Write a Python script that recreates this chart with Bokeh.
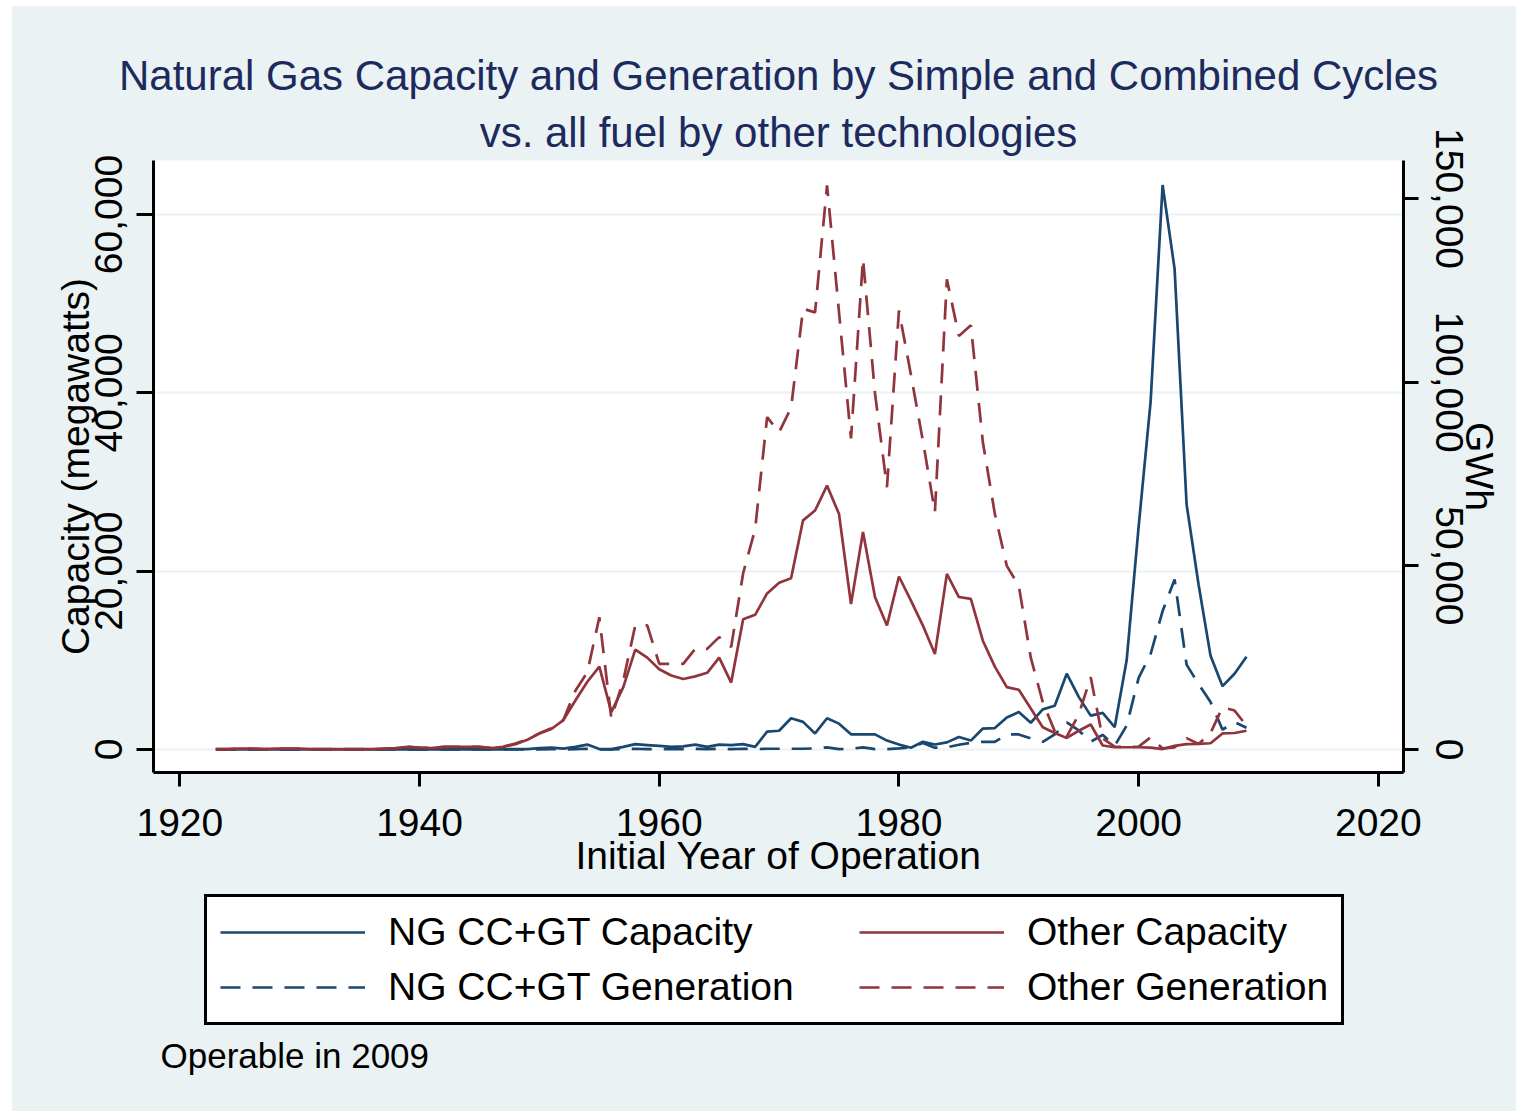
import math
from bokeh.plotting import figure
from bokeh.layouts import column
from bokeh.models import (Range1d, LinearAxis, FixedTicker, NumeralTickFormatter,
                          Legend, LegendItem, Title, Label, ColumnDataSource)
from bokeh.embed import file_html
from bokeh.resources import INLINE

# ---------------- data ----------------
years = list(range(1923, 2010))

# NG CC+GT capacity, MW (left axis)
ng_capacity = [
    20, 20, 20, 20, 20, 20, 20, 20, 20, 20,
    20, 20, 20, 20, 20, 20, 20, 20, 20, 20,
    20, 20, 20, 20, 20, 50, 50,
    150, 200, 100, 300, 550, 50, 50, 300, 600, 500,
    400, 300, 350, 550, 300, 550, 500, 600, 300, 2000,
    2100, 3500, 3100, 1800, 3500, 2900, 1700, 1700, 1700, 1000,
    560, 200, 860, 560, 800, 1400, 1000, 2350, 2400, 3600,
    4200, 3000, 4500, 4900, 8500, 5900, 3800, 4100, 2500, 10000,
    25000, 39000, 63300, 53900, 27500, 18500, 10500, 7100, 8500, 10400,
]

# NG CC+GT generation, GWh (right axis)
ng_generation = [
    0, 0, 0, 0, 0, 0, 0, 0, 0, 0,
    0, 0, 0, 0, 0, 0, 0, 0, 0, 0,
    0, 0, 0, 0, 0, 0, 0,
    0, 100, 0, 100, 200, 0, 0, 100, 200, 100,
    100, 100, 100, 200, 100, 200, 100, 200, 100, 200,
    200, 200, 200, 300, 600, 100, 200, 600, 100, 100,
    300, 600, 1800, 500, 600, 1300, 1800, 2100, 2100, 4100,
    4100, 3000, 2100, 4100, 7400, 5200, 2100, 4000, 1000, 6500,
    19500, 26000, 37700, 46300, 23100, 17800, 12900, 5400, 7500, 5900,
]

# Other capacity, MW (left axis)
other_capacity = [
    50, 50, 100, 100, 50, 100, 100, 100, 50, 50,
    50, 50, 50, 50, 100, 150, 300, 200, 150, 300,
    300, 300, 300, 150, 300, 600, 1100,
    1800, 2300, 3300, 5500, 7600, 9300, 4200, 7000, 11200, 10300,
    9000, 8300, 7900, 8200, 8600, 10300, 7500, 14600, 15100, 17500,
    18700, 19200, 25700, 26800, 29600, 26400, 16300, 24400, 17100, 13900,
    19400, 16700, 13900, 10700, 19700, 17100, 16900, 12200, 9300, 7000,
    6700, 4600, 2500, 1850, 1300, 2100, 2800, 450, 250, 250,
    250, 200, 50, 400, 600, 640, 700, 1800, 1850, 2100,
]

# Other generation, GWh (right axis)
other_generation = [
    100, 100, 200, 200, 100, 200, 200, 200, 100, 100,
    100, 100, 100, 100, 200, 400, 700, 500, 400, 700,
    700, 700, 700, 400, 800, 1600, 2800,
    4400, 5800, 8000, 16000, 21000, 36000, 8500, 18800, 33800, 33800,
    23300, 23300, 23300, 27400, 27400, 30600, 27900, 48000, 60000, 90500,
    86400, 93000, 120000, 119000, 153600, 119000, 84700, 133600, 97000, 71400,
    119500, 102000, 84000, 64600, 128000, 112600, 115500, 83700, 64200, 50000,
    44600, 25000, 12900, 5000, 3500, 9500, 19700, 3000, 800, 600,
    800, 3300, 300, 600, 3100, 1500, 4500, 11500, 10600, 6500,
]

x_ticks = [1920, 1940, 1960, 1980, 2000, 2020]
cap_ticks = [0, 20000, 40000, 60000]
gen_ticks = [0, 50000, 100000, 150000]

series_labels = ["NG CC+GT Capacity", "NG CC+GT Generation", "Other Capacity", "Other Generation"]
title_line1 = "Natural Gas Capacity and Generation by Simple and Combined Cycles"
title_line2 = "vs. all fuel by other technologies"
note_text = "Operable in 2009"

# ---------------- style ----------------
BG = "#EAF2F3"
NAVY = "#1A476F"
MAROON = "#90353B"
FONT = "Liberation Sans"
TITLE_C = "#1C2A5E"
DASH = "20 12"
LW = 2.7

p = figure(frame_width=1250, frame_height=612, output_backend="svg", toolbar_location=None,
           x_range=Range1d(1917.8, 2022.1), y_range=Range1d(-2580, 66055),
           min_border_left=141, min_border_right=113,
           min_border_top=154, min_border_bottom=120)
p.extra_y_ranges = {"gen": Range1d(-6262, 160360)}
p.background_fill_color = "white"
p.border_fill_color = BG
p.outline_line_color = None

src = ColumnDataSource(dict(year=years, ngc=ng_capacity, ngg=ng_generation,
                            oc=other_capacity, og=other_generation))

r1 = p.line("year", "ngc", source=src, line_color=NAVY, line_width=LW)
r2 = p.line("year", "ngg", source=src, line_color=NAVY, line_width=LW,
            line_dash=DASH, y_range_name="gen")
r3 = p.line("year", "oc", source=src, line_color=MAROON, line_width=LW)
r4 = p.line("year", "og", source=src, line_color=MAROON, line_width=LW,
            line_dash=DASH, y_range_name="gen")

# grid
p.xgrid.visible = False
p.ygrid.ticker = FixedTicker(ticks=cap_ticks)
p.ygrid.grid_line_color = BG
p.ygrid.grid_line_width = 2


def style_axis(ax):
    ax.axis_line_color = "black"
    ax.axis_line_width = 3
    ax.major_tick_line_color = "black"
    ax.major_tick_line_width = 3
    ax.major_tick_in = 0
    ax.minor_tick_line_color = None
    ax.major_label_text_font = FONT
    ax.major_label_text_font_size = "39px"
    ax.major_label_text_color = "black"
    ax.axis_label_text_font = FONT
    ax.axis_label_text_font_size = "39px"
    ax.axis_label_text_font_style = "normal"
    ax.axis_label_text_color = "black"


xa = p.xaxis[0]
xa.ticker = FixedTicker(ticks=x_ticks)
xa.axis_label = "Initial Year of Operation"
style_axis(xa)
xa.major_tick_out = 14
xa.major_label_standoff = 22
xa.axis_label_standoff = -5

ya = p.yaxis[0]
ya.ticker = FixedTicker(ticks=cap_ticks)
ya.formatter = NumeralTickFormatter(format="0,0")
ya.axis_label = "Capacity (megawatts)"
style_axis(ya)
ya.major_tick_out = 17
ya.major_label_standoff = 14
ya.major_label_orientation = "vertical"
ya.axis_label_standoff = -4

ra = LinearAxis(y_range_name="gen", ticker=FixedTicker(ticks=gen_ticks),
                formatter=NumeralTickFormatter(format="0,0"), axis_label="GWh")
style_axis(ra)
ra.major_tick_out = 15
ra.major_label_standoff = 17
ra.major_label_orientation = "vertical"
ra.axis_label_standoff = -8
p.add_layout(ra, "right")

# titles (p.title is the outer line, the added one sits next to the frame)
p.title.text = title_line1
p.title.align = "center"
p.title.text_font = FONT
p.title.text_font_size = "42px"
p.title.text_font_style = "normal"
p.title.text_color = TITLE_C
p.title.standoff = 6
t2 = Title(text=title_line2, align="center", text_font=FONT, text_font_size="42px",
           text_font_style="normal", text_color=TITLE_C, standoff=10)
p.add_layout(t2, "above")

# ---------------- legend + note panel below the chart ----------------
p2 = figure(width=1504, height=219, output_backend="svg", toolbar_location=None,
            x_range=Range1d(0, 1), y_range=Range1d(0, 1),
            x_axis_location=None, y_axis_location=None, min_border=0)
p2.title.visible = False
p2.background_fill_color = BG
p2.border_fill_color = BG
p2.outline_line_color = None
p2.grid.visible = False

# legend keys: the same series with the same styles, outside this panel's ranges
k1 = p2.line("year", "ngc", source=src, line_color=NAVY, line_width=LW)
k2 = p2.line("year", "ngg", source=src, line_color=NAVY, line_width=LW, line_dash=DASH)
k3 = p2.line("year", "oc", source=src, line_color=MAROON, line_width=LW)
k4 = p2.line("year", "og", source=src, line_color=MAROON, line_width=LW, line_dash=DASH)
keys = [k1, k2, k3, k4]

# trailing spaces widen the first legend column like the reference
legend_text = [series_labels[0], series_labels[1] + "     ", series_labels[2], series_labels[3]]
legend = Legend(items=[LegendItem(label=lab, renderers=[r]) for lab, r in zip(legend_text, keys)],
                ncols=2, location=(51, 86),
                label_text_font=FONT, label_text_font_size="39px", label_text_color="black",
                glyph_width=145, glyph_height=40, label_standoff=23,
                padding=13, spacing=11, margin=0,
                border_line_color="black", border_line_width=3, border_line_alpha=1.0,
                background_fill_color="white", background_fill_alpha=1.0)
p2.add_layout(legend)

note = Label(x=7, y=56, x_units="screen", y_units="screen", text=note_text,
             text_font=FONT, text_font_size="35px", text_color="black",
             text_baseline="alphabetic")
p2.add_layout(note)

layout = column(p, p2, spacing=0, margin=(6, 6, 2, 12), styles={"background-color": BG})
open("out.html", "w").write(file_html(layout, INLINE))
